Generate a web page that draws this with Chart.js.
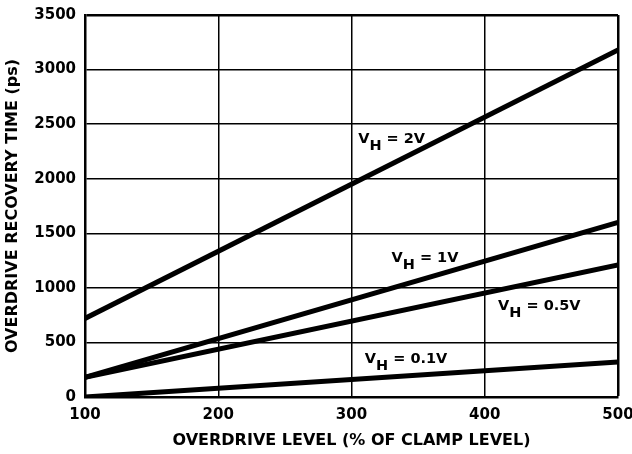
<!DOCTYPE html>
<html lang="en">
<head>
  <meta charset="UTF-8">
  <title>Overdrive Recovery Time</title>
  <script src="https://cdn.jsdelivr.net/npm/chart.js"></script>
  <style>
    html, body { margin: 0; padding: 0; background: #fff; }
    #wrap { width: 632px; height: 454px; }
  </style>
</head>
<body>
  <div id="wrap"><canvas id="myChart" width="632" height="454"></canvas></div>

  <script>
    // Overdrive level, % of clamp level
    const overdrive = [100, 500];

    // Recovery time in ps for each V_H setting
    const vh2 = [720, 3180];
    const vh1 = [180, 1600];
    const vh05 = [180, 1210];
    const vh01 = [0, 320];

    const xTicks = [100, 200, 300, 400, 500];
    const yTicks = [0, 500, 1000, 1500, 2000, 2500, 3000, 3500];

    const FONT = '"DejaVu Sans", Arial, sans-serif';

    // Curve labels: "V" + subscript "H" + rest, anchored in data units (left edge, baseline)
    const curveLabels = [
      { x: 305, y: 2325, rest: ' = 2V' },
      { x: 330, y: 1234, rest: ' = 1V' },
      { x: 410, y: 794, rest: ' = 0.5V' },
      { x: 310, y: 309, rest: ' = 0.1V' }
    ];

    const labelPlugin = {
      id: 'curveLabels',
      afterDatasetsDraw(chart) {
        const ctx = chart.ctx;
        const xs = chart.scales.x, ys = chart.scales.y;
        ctx.save();
        ctx.fillStyle = '#000';
        ctx.font = 'bold 14.5px ' + FONT;
        ctx.textBaseline = 'alphabetic';
        ctx.textAlign = 'left';
        curveLabels.forEach(l => {
          let px = xs.getPixelForValue(l.x);
          const py = ys.getPixelForValue(l.y);
          ctx.fillText('V', px, py);
          px += ctx.measureText('V').width;
          ctx.fillText('H', px, py + 7);
          px += ctx.measureText('H').width;
          ctx.fillText(l.rest, px, py);
        });
        ctx.restore();
      }
    };

    function series(values) {
      return {
        data: overdrive.map((x, i) => ({ x: x, y: values[i] })),
        borderColor: '#000',
        borderWidth: 5,
        pointRadius: 0,
        fill: false,
        tension: 0
      };
    }

    const tickFont = { family: FONT, size: 15, weight: 'bold' };
    const titleFont = { family: FONT, size: 16, weight: 'bold' };

    const ctx = document.getElementById('myChart').getContext('2d');
    new Chart(ctx, {
      type: 'line',
      data: {
        datasets: [series(vh2), series(vh1), series(vh05), series(vh01)]
      },
      options: {
        responsive: false,
        animation: false,
        layout: { padding: 0 },
        plugins: { legend: { display: false }, tooltip: { enabled: false } },
        scales: {
          x: {
            type: 'linear',
            min: 100,
            max: 500,
            afterBuildTicks: s => { s.ticks = xTicks.map(v => ({ value: v })); },
            afterFit: s => { s.height = 57; s.paddingLeft = 0; s.paddingRight = 14; },
            grid: {
              color: '#000',
              lineWidth: c => (c.tick && c.tick.value === 500 ? 2.5 : 1.5),
              drawTicks: false
            },
            border: { display: true, color: '#000', width: 2.5 },
            ticks: {
              color: '#000',
              padding: 9,
              font: tickFont,
              callback: v => String(v)
            },
            title: {
              display: true,
              text: 'OVERDRIVE LEVEL (% OF CLAMP LEVEL)',
              color: '#000',
              padding: { top: 0, bottom: 4 },
              font: titleFont
            }
          },
          y: {
            type: 'linear',
            min: 0,
            max: 3500,
            afterBuildTicks: s => { s.ticks = yTicks.map(v => ({ value: v })); },
            afterFit: s => { s.width = 85; s.paddingTop = 15; s.paddingBottom = 0; },
            grid: {
              color: '#000',
              lineWidth: c => (c.tick && c.tick.value === 3500 ? 2.5 : 1.5),
              drawTicks: false
            },
            border: { display: true, color: '#000', width: 2.5 },
            ticks: {
              color: '#000',
              padding: 9,
              font: tickFont,
              callback: v => String(v)
            },
            title: {
              display: true,
              text: 'OVERDRIVE RECOVERY TIME (ps)',
              color: '#000',
              padding: { top: 3, bottom: 0 },
              font: titleFont
            }
          }
        }
      },
      plugins: [labelPlugin]
    });
  </script>
</body>
</html>
